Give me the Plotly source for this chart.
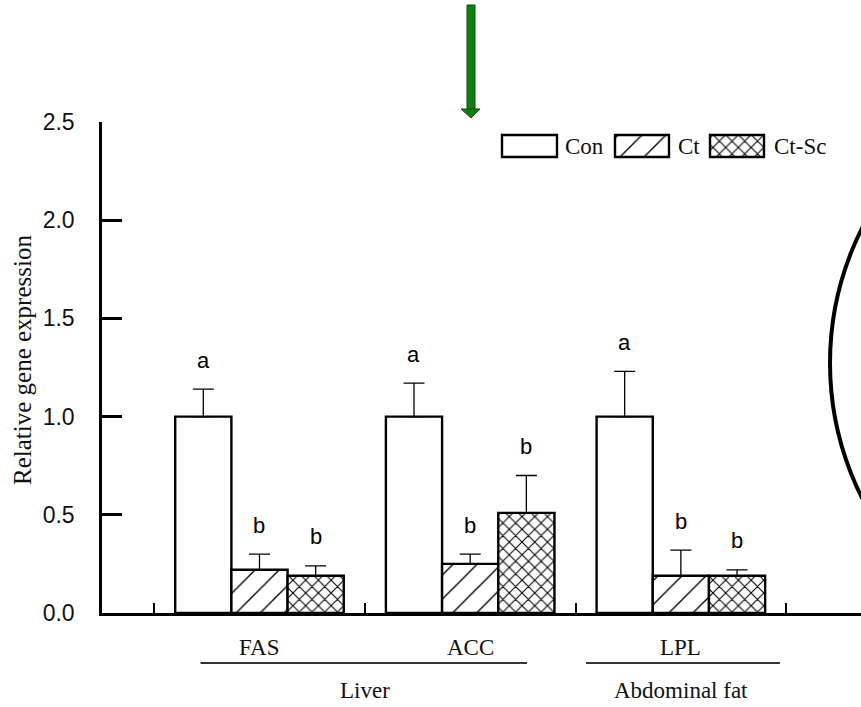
import plotly.graph_objects as go

# ---------------- data ----------------
genes = ["FAS", "ACC", "LPL"]
gene_tissue = ["Liver", "Liver", "Abdominal fat"]
treatments = ["Con", "Ct", "Ct-Sc"]

con_mean = [1.00, 1.00, 1.00]
con_err = [0.14, 0.17, 0.23]
ct_mean = [0.22, 0.25, 0.19]
ct_err = [0.08, 0.05, 0.13]
ctsc_mean = [0.19, 0.51, 0.19]
ctsc_err = [0.05, 0.19, 0.03]

con_letters = ["a", "a", "a"]
ct_letters = ["b", "b", "b"]
ctsc_letters = ["b", "b", "b"]

y_ticks = [0.0, 0.5, 1.0, 1.5, 2.0, 2.5]
y_title = "Relative gene expression"

means = [con_mean, ct_mean, ctsc_mean]
errs = [con_err, ct_err, ctsc_err]
letters = [con_letters, ct_letters, ctsc_letters]
patterns = [dict(shape=""),
            dict(shape="/", size=17, solidity=0.08, fgcolor="black", fgopacity=1, bgcolor="white"),
            dict(shape="x", size=9, solidity=0.22, fgcolor="black", fgopacity=1, bgcolor="white")]

# ---------------- geometry helpers (pixel -> paper) ----------------
W, H = 861, 707
L, R, T, B = 102, 0, 122, 94
PW, PH = W - L - R, H - T - B


def px(x):
    return (x - L) / PW


def py(y):
    return (H - B - y) / PH


SERIF = "Liberation Serif"
SANS = "Liberation Sans"

fig = go.Figure()
xs = list(range(len(genes)))
bargap = 0.2
bw = (1 - bargap) / len(treatments)

for j, name in enumerate(treatments):
    fig.add_trace(go.Bar(
        x=xs, y=means[j], name=name,
        marker=dict(color="white", line=dict(color="black", width=2.4), pattern=patterns[j]),
        error_y=dict(type="data", array=errs[j], arrayminus=[0] * len(xs), symmetric=False,
                     color="black", thickness=1.3, width=10.5),
        showlegend=False,
    ))

annotations = []
# significance letters
for j in range(len(treatments)):
    off = (j - (len(treatments) - 1) / 2) * bw
    for i in xs:
        annotations.append(dict(
            x=i + off, y=means[j][i] + errs[j][i], xref="x", yref="y",
            text=letters[j][i], showarrow=False, yanchor="middle", yshift=29,
            font=dict(family=SANS, size=22, color="black")))

# gene labels
for i, g in enumerate(genes):
    annotations.append(dict(x=i, y=py(647.5), xref="x", yref="paper", text=g, showarrow=False,
                            yanchor="middle", font=dict(family=SERIF, size=23, color="#111")))

# tissue labels + underlines
shapes = []
tissues = []
for t in gene_tissue:
    if t not in tissues:
        tissues.append(t)
line_ext = {"Liver": (-0.28, 0.27), "Abdominal fat": (-0.45, 0.47)}
for t in tissues:
    idx = [i for i, g in enumerate(gene_tissue) if g == t]
    lo, hi = min(idx), max(idx)
    annotations.append(dict(x=(lo + hi) / 2, y=py(690), xref="x", yref="paper", text=t,
                            showarrow=False, yanchor="middle",
                            font=dict(family=SERIF, size=23, color="#111")))
    e0, e1 = line_ext[t]
    shapes.append(dict(type="line", xref="x", yref="paper", x0=lo + e0, x1=hi + e1,
                       y0=py(663), y1=py(663), line=dict(color="#333", width=2)))

# y-axis title
annotations.append(dict(x=px(22), y=py(360), xref="paper", yref="paper", text=y_title,
                        textangle=-90, showarrow=False, xanchor="center", yanchor="middle",
                        font=dict(family=SERIF, size=25, color="#111")))

# legend (manual, on overlay pixel axes)
leg_boxes = [(502, 557), (615, 669), (710, 764)]
leg_text_x = [563, 676, 772]
leg_y0, leg_y1 = 135, 157
fig.add_trace(go.Bar(
    x=[((a + b) / 2) - L for a, b in leg_boxes],
    y=[leg_y1 - leg_y0] * 3,
    base=[H - B - leg_y1] * 3,
    width=[b - a for a, b in leg_boxes],
    xaxis="x2", yaxis="y2",
    marker=dict(color="white", line=dict(color="black", width=2.4),
                pattern=dict(shape=["", "/", "x"], size=[10, 17, 9],
                             solidity=[0.1, 0.08, 0.22], fgcolor="black", fgopacity=1,
                             bgcolor="white")),
    showlegend=False, hoverinfo="skip",
))
for name, tx in zip(treatments, leg_text_x):
    annotations.append(dict(x=px(tx), y=py((leg_y0 + leg_y1) / 2), xref="paper", yref="paper",
                            text=name, showarrow=False, xanchor="left", yanchor="middle",
                            font=dict(family=SERIF, size=23, color="#111")))

# green arrow
shapes.append(dict(type="rect", xref="paper", yref="paper", x0=px(467), x1=px(475),
                   y0=py(110), y1=py(5), fillcolor="#127d12", line=dict(color="#0b520b", width=1)))
shapes.append(dict(type="path", xref="paper", yref="paper",
                   path=f"M {px(461)} {py(109)} L {px(480)} {py(109)} L {px(471)} {py(118)} Z",
                   fillcolor="#127d12", line=dict(color="#0b520b", width=1)))
# large ellipse on the right
shapes.append(dict(type="circle", xref="paper", yref="paper", x0=px(830), x1=px(1430),
                   y0=py(663), y1=py(63), line=dict(color="black", width=4)))

fig.update_layout(
    width=W, height=H, margin=dict(l=L, r=R, t=T, b=B),
    paper_bgcolor="white", plot_bgcolor="white",
    barmode="group", bargap=bargap, bargroupgap=0,
    annotations=annotations, shapes=shapes,
    xaxis=dict(range=[-0.7475, 2.855], showgrid=False, zeroline=False,
               showline=True, linecolor="black", linewidth=2.5,
               tickmode="array", tickvals=[i - 0.5 for i in range(len(genes) + 1)],
               showticklabels=False, ticks="inside", ticklen=10, tickwidth=2, tickcolor="black"),
    yaxis=dict(range=[0, 2.5], showgrid=False, zeroline=False,
               showline=True, linecolor="black", linewidth=2.5,
               tickmode="array", tickvals=y_ticks, ticktext=[f"{v:.1f}" for v in y_ticks],
               ticks="inside", ticklen=20, tickwidth=2.5, tickcolor="black",
               ticklabelstandoff=20,
               tickfont=dict(family=SANS, size=23, color="#111")),
    xaxis2=dict(overlaying="x", range=[0, PW], visible=False),
    yaxis2=dict(overlaying="y", range=[0, PH], visible=False),
)

fig.write_html("out.html", config={"displayModeBar": False},
               post_script="document.body.style.margin='0';")
